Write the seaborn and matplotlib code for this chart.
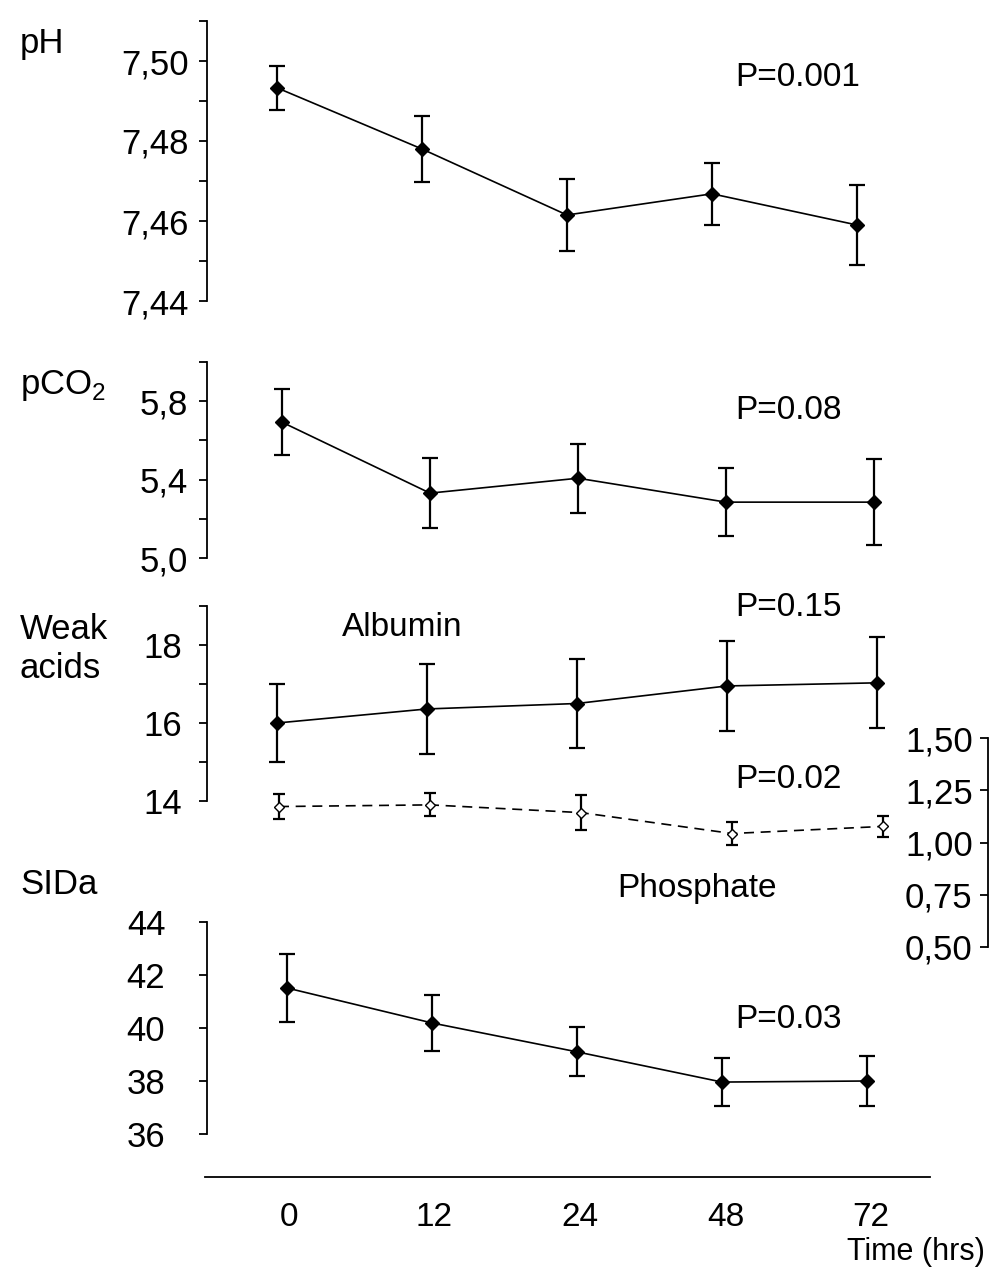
import matplotlib
matplotlib.use("Agg")
import matplotlib.pyplot as plt
from matplotlib.ticker import FixedLocator
import seaborn as sns
import numpy as np
import pandas as pd

# ---------------- data ----------------
time_labels = ["0", "12", "24", "48", "72"]

ph_mean = [7.4933, 7.478, 7.4615, 7.4668, 7.459]
ph_err = [0.0055, 0.0083, 0.009, 0.0077, 0.010]

pco2_mean = [5.693, 5.331, 5.407, 5.285, 5.285]
pco2_err = [0.17, 0.18, 0.175, 0.175, 0.22]

albumin_mean = [16.0, 16.36, 16.5, 16.95, 17.03]
albumin_err = [1.0, 1.15, 1.13, 1.15, 1.17]

phosphate_mean = [1.172, 1.18, 1.143, 1.043, 1.077]
phosphate_err = [0.06, 0.055, 0.085, 0.055, 0.05]

sida_mean = [41.51, 40.19, 39.1, 37.96, 38.0]
sida_err = [1.3, 1.05, 0.92, 0.9, 0.95]

p_values = ["P=0.001", "P=0.08", "P=0.15", "P=0.02", "P=0.03"]

# ---------------- style ----------------
sns.set_style("white")
plt.rcParams["font.family"] = ["Liberation Sans", "DejaVu Sans"]
plt.rcParams["mathtext.fontset"] = "custom"
plt.rcParams["mathtext.rm"] = "Liberation Sans"
plt.rcParams["text.color"] = "black"
plt.rcParams["xtick.color"] = "black"
plt.rcParams["ytick.color"] = "black"

W, H = 1004, 1287
fig = plt.figure(figsize=(W / 100, H / 100), dpi=100)
fig.patch.set_facecolor("white")

XL, XR = 207, 930
FS_TICK = 25
FS_TEXT = 24


def add_ax(ytop, ybot):
    ax = fig.add_axes([XL / W, 1 - ybot / H, (XR - XL) / W, (ybot - ytop) / H])
    ax.set_facecolor("none")
    return ax


def style_left(ax, pad):
    for s in ["top", "right", "bottom"]:
        ax.spines[s].set_visible(False)
    ax.spines["left"].set_color("black")
    ax.spines["left"].set_linewidth(1.3)
    ax.set_xticks([])
    ax.tick_params(axis="y", which="both", direction="out", length=6, width=1.3,
                   color="black", labelcolor="black", labelsize=FS_TICK, pad=pad, left=True)
    ax.grid(False)


def set_x(ax, px0, sp):
    ax.set_xlim((XL - px0) / sp, (XR - px0) / sp)


def draw(ax, mean, err, filled=True, dashed=False, msize=7):
    x = np.arange(len(mean))
    df = pd.DataFrame({"x": x, "y": mean})
    sns.lineplot(data=df, x="x", y="y", ax=ax, color="black", lw=1.2,
                 linestyle=(0, (6, 4)) if dashed else "-", marker=None,
                 zorder=2, legend=False)
    ax.errorbar(x, mean, yerr=err, fmt="none", ecolor="black", elinewidth=1.6,
                capsize=6 if filled else 4.5, capthick=1.6, zorder=3)
    ax.plot(x, mean, linestyle="none", marker="D", markersize=msize,
            markerfacecolor="black" if filled else "white",
            markeredgecolor="black", markeredgewidth=1.0, zorder=4)
    ax.set_xlabel("")
    ax.set_ylabel("")


def fmt_comma(vals, dec):
    return [f"{v:.{dec}f}".replace(".", ",") for v in vals]


# ---- pH ----
ax1 = add_ax(21, 301)
draw(ax1, ph_mean, ph_err)
set_x(ax1, 277, 145)
ax1.set_ylim(7.44, 7.51)
style_left(ax1, 7)
ph_ticks = [7.44, 7.46, 7.48, 7.50]
ax1.yaxis.set_major_locator(FixedLocator(ph_ticks))
ax1.set_yticklabels(fmt_comma(ph_ticks, 2))
ax1.yaxis.set_minor_locator(FixedLocator([7.45, 7.47, 7.49, 7.51]))

# ---- pCO2 ----
ax2 = add_ax(362, 558)
draw(ax2, pco2_mean, pco2_err)
set_x(ax2, 282, 148)
ax2.set_ylim(5.0, 6.0)
style_left(ax2, 8)
pco2_ticks = [5.0, 5.4, 5.8]
ax2.yaxis.set_major_locator(FixedLocator(pco2_ticks))
ax2.set_yticklabels(fmt_comma(pco2_ticks, 1))
ax2.yaxis.set_minor_locator(FixedLocator([5.2, 5.6, 6.0]))

# ---- Weak acids (albumin) ----
ax3 = add_ax(606, 801)
draw(ax3, albumin_mean, albumin_err)
set_x(ax3, 277, 150)
ax3.set_ylim(14, 19)
style_left(ax3, 12)
wa_ticks = [14, 16, 18]
ax3.yaxis.set_major_locator(FixedLocator(wa_ticks))
ax3.set_yticklabels([str(v) for v in wa_ticks])
ax3.yaxis.set_minor_locator(FixedLocator([15, 17, 19]))

# ---- Phosphate (own axis on the right) ----
ax3b = add_ax(738, 947)
draw(ax3b, phosphate_mean, phosphate_err, filled=False, dashed=True, msize=5)
set_x(ax3b, 279, 151)
ax3b.set_ylim(0.5, 1.5)
style_left(ax3b, 5)
ax3b.spines["left"].set_position(("axes", (988 - XL) / (XR - XL)))
ph_ticks2 = [0.5, 0.75, 1.0, 1.25, 1.5]
ax3b.yaxis.set_major_locator(FixedLocator(ph_ticks2))
ax3b.set_yticklabels(fmt_comma(ph_ticks2, 2))

# ---- SIDa ----
ax4 = add_ax(922, 1134)
draw(ax4, sida_mean, sida_err)
set_x(ax4, 287, 145)
ax4.set_ylim(36, 44)
style_left(ax4, 24)
sida_ticks = [36, 38, 40, 42, 44]
ax4.yaxis.set_major_locator(FixedLocator(sida_ticks))
ax4.set_yticklabels([str(v) for v in sida_ticks])

# ---- bottom time axis ----
axb = fig.add_axes([205 / W, 1 - 1177 / H, (930 - 205) / W, 0.001])
axb.set_facecolor("none")
for s in ["top", "right", "left"]:
    axb.spines[s].set_visible(False)
axb.spines["bottom"].set_linewidth(1.3)
axb.spines["bottom"].set_color("black")
axb.set_xlim((205 - 289) / 145.5, (930 - 289) / 145.5)
axb.set_xticks(range(len(time_labels)))
axb.set_xticklabels(time_labels)
axb.set_yticks([])
axb.tick_params(axis="x", length=0, labelsize=24, pad=18, labelcolor="black")

# ---- texts ----
def ftext(x, y, s, ha="left", size=FS_TEXT, va="center"):
    fig.text(x / W, 1 - y / H, s, ha=ha, va=va, fontsize=size, color="black")

ftext(20, 43, "pH", size=25)
ftext(20, 385, r"pCO$_\mathregular{2}$", size=25)
ftext(20, 649, "Weak\nacids", size=25)
ftext(20, 885, "SIDa", size=25)
ftext(402, 627, "Albumin", ha="center")
ftext(697, 889, "Phosphate", ha="center")
ftext(735, 77, p_values[0])
ftext(735, 411, p_values[1])
ftext(735, 608, p_values[2])
ftext(735, 780, p_values[3])
ftext(735, 1020, p_values[4])
ftext(985, 1252, "Time (hrs)", ha="right", size=22)

fig.savefig("out.png", dpi=100, facecolor="white")
